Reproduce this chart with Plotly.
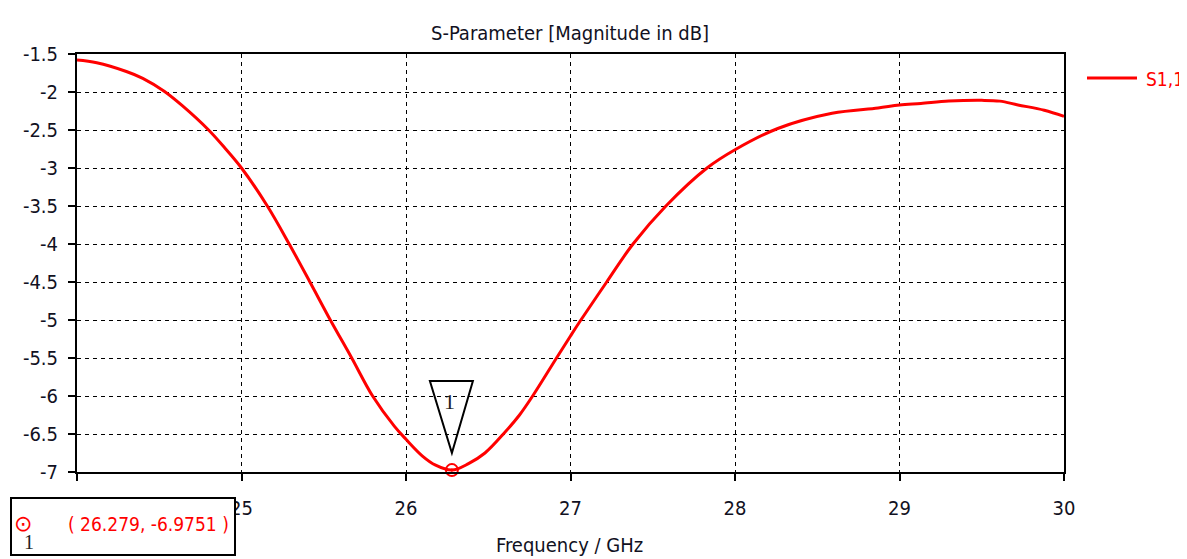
import plotly.graph_objects as go

# S1,1 magnitude in dB
freq_ghz = [24.0, 24.12, 24.30, 24.40, 24.53, 24.64, 24.80, 24.90, 25.0, 25.157, 25.29,
            25.416, 25.54, 25.67, 25.797, 25.93, 26.0, 26.10, 26.18, 26.279, 26.38,
            26.48, 26.60, 26.69, 26.77, 26.915, 27.0, 27.06, 27.22, 27.38, 27.58,
            27.83, 28.0, 28.26, 28.59, 28.87, 29.0, 29.13, 29.3, 29.5, 29.61, 29.72,
            29.88, 30.0]
s11_db = [-1.58, -1.615, -1.73, -1.82, -1.99, -2.18, -2.5, -2.74, -3.0, -3.5, -4.0,
          -4.5, -5.0, -5.5, -6.0, -6.40, -6.57, -6.79, -6.91, -6.9751, -6.89,
          -6.75, -6.48, -6.25, -6.0, -5.5, -5.21, -5.01, -4.5, -4.0, -3.5,
          -3.0, -2.76, -2.48, -2.28, -2.21, -2.17, -2.15, -2.12, -2.11, -2.12, -2.17,
          -2.24, -2.32]

marker_x = [26.279]
marker_y = [-6.9751]
marker_label = "1"

x_ticks = [24, 25, 26, 27, 28, 29, 30]
y_ticks = [-7, -6.5, -6, -5.5, -5, -4.5, -4, -3.5, -3, -2.5, -2, -1.5]
y_ticktext = ["-7", "-6.5", "-6", "-5.5", "-5", "-4.5", "-4", "-3.5", "-3", "-2.5", "-2", "-1.5"]

FONT = "DejaVu Sans Condensed, Liberation Sans Narrow, DejaVu Sans, sans-serif"
RED = "#ff0000"
TXT = "#111122"

fig = go.Figure()
fig.add_trace(go.Scatter(x=freq_ghz, y=s11_db, mode="lines",
                         line=dict(color=RED, width=3, shape="spline", smoothing=1.0),
                         showlegend=False, hoverinfo="skip"))
fig.add_trace(go.Scatter(x=marker_x, y=marker_y, mode="markers",
                         marker=dict(symbol="circle-open-dot", size=12, color=RED,
                                     line=dict(width=2, color=RED)),
                         cliponaxis=False, showlegend=False))

axis_common = dict(showline=True, linecolor="black", linewidth=2, mirror=True,
                   showgrid=True, gridcolor="black", gridwidth=1, griddash="4px,4px",
                   ticks="outside", ticklen=7, tickcolor="black", tickwidth=2,
                   zeroline=False, tickfont=dict(family=FONT, size=20, color=TXT))

fig.update_xaxes(range=[24, 30], tickvals=x_ticks, ticklabelstandoff=10, **axis_common)
fig.update_yaxes(range=[-7, -1.5], tickvals=y_ticks, ticktext=y_ticktext,
                 ticklabelstandoff=6, **axis_common)

# marker flag (inverted triangle with label) anchored on the marker point
fig.add_shape(type="path", xref="x", yref="y", xsizemode="pixel", ysizemode="pixel",
              xanchor=marker_x[0], yanchor=marker_y[0],
              path="M -22,89 L 21,89 L 0,17 Z",
              line=dict(color="black", width=2), fillcolor="rgba(0,0,0,0)")
fig.add_annotation(x=marker_x[0], y=marker_y[0], xref="x", yref="y", text=marker_label,
                   showarrow=False, yshift=69, xshift=-2,
                   font=dict(family="Liberation Serif, serif", size=22, color="#222222"))

# plot area in the page: x 77..1064, y 54..472 (page body adds 8px offset)
annotations = [
    dict(text="S-Parameter [Magnitude in dB]", xref="paper", yref="paper", x=0.499,
         y=(472 - 33) / 418, xanchor="center", yanchor="middle", showarrow=False,
         font=dict(family=FONT, size=20, color=TXT)),
    dict(text="Frequency / GHz", xref="paper", yref="paper", x=(569 - 77) / 987,
         y=(472 - 545) / 418, xanchor="center", yanchor="middle", showarrow=False,
         font=dict(family=FONT, size=20, color=TXT)),
    dict(text="S1,1", xref="paper", yref="paper", x=(1144 - 77) / 987,
         y=(472 - 79) / 418, xanchor="left", yanchor="middle", showarrow=False,
         font=dict(family=FONT, size=19, color=RED)),
]
for a in annotations:
    fig.add_annotation(**a)

# marker readout box (drawn on top of the tick labels)
fig.add_annotation(text=" ", xref="paper", yref="paper", x=(10 - 77) / 987,
                   y=(472 - 497) / 418, xanchor="left", yanchor="top", showarrow=False,
                   width=222, height=55, bgcolor="white", bordercolor="black",
                   borderwidth=2, borderpad=0)
fig.add_annotation(text="\u2299", xref="paper", yref="paper", x=(23 - 77) / 987,
                   y=(472 - 523) / 418, xanchor="center", yanchor="middle", showarrow=False,
                   font=dict(family="DejaVu Sans", size=22, color=RED))
fig.add_annotation(text=marker_label, xref="paper", yref="paper", x=(29 - 77) / 987,
                   y=(472 - 542) / 418, xanchor="center", yanchor="middle", showarrow=False,
                   font=dict(family="Liberation Serif, serif", size=20, color="#222222"))
fig.add_annotation(text="( %.3f, %.4f )" % (marker_x[0], marker_y[0]), xref="paper",
                   yref="paper", x=(66 - 77) / 987, y=(472 - 524) / 418,
                   xanchor="left", yanchor="middle", showarrow=False,
                   font=dict(family=FONT, size=19, color=RED))

# legend line
fig.add_shape(type="line", xref="paper", yref="paper", x0=(1087 - 77) / 987,
              x1=(1137 - 77) / 987, y0=(472 - 78) / 418, y1=(472 - 78) / 418,
              line=dict(color=RED, width=3))

# the page body margin shifts the figure by 8px, so the figure is 8px smaller
fig.update_layout(width=1179, height=551, margin=dict(l=69, r=123, t=46, b=87),
                  paper_bgcolor="white", plot_bgcolor="white", showlegend=False,
                  font=dict(family=FONT))

fig.write_html("out.html")
